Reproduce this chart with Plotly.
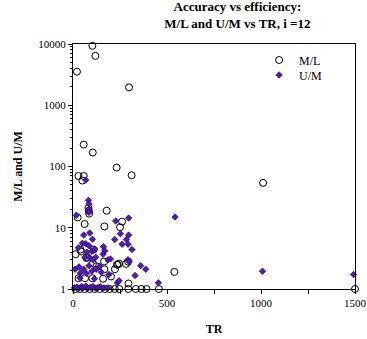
import plotly.graph_objects as go

# M/L series (open circles)
ml_tr = [103, 119, 21, 298, 57, 105, 232, 29, 57, 50, 312,
         82, 84, 86, 179, 25, 62, 167, 261, 250,
         14, 39, 110, 71, 106, 124, 165, 234, 245, 293, 282, 223, 160, 29, 64, 103, 295, 539,
         43, 75, 238, 167, 202, 1011, 1500,
         13, 36, 62, 89, 116, 142, 169, 195, 222, 246, 294, 334, 364, 391, 457]
ml_val = [9340, 6400, 3530, 1960, 228, 169, 96, 70, 70, 59, 72,
          21, 19, 17, 19, 14.7, 11.5, 10.5, 12.6, 10.2,
          3.7, 4.4, 4.4, 3.2, 2.6, 2.35, 2.8, 2.5, 2.6, 2.8, 2.57, 2.1, 1.47, 1.5, 1.5, 1.5, 1.23, 1.9,
          4.1, 3.3, 2.5, 2.1, 1.6, 54, 1,
          1, 1, 1, 1, 1, 1, 1, 1, 1, 1, 1, 1, 1, 1, 1]

# U/M series (filled diamonds)
um_tr = [68, 82, 85, 85, 85, 18, 543, 296, 227,
         57, 89, 103, 252, 296, 222, 284, 261, 293, 314, 162, 169, 160,
         29, 50, 68, 85, 74, 100, 115, 64, 89, 106, 121, 186, 199, 293, 298,
         360, 387, 330, 11, 32, 39, 57, 71, 85, 100, 124, 142, 151, 191,
         36, 114, 236, 245, 454, 1008, 1492,
         9, 21, 32, 45, 53, 68, 80, 93, 106, 121, 133, 146, 163, 186]
um_val = [60, 28, 24.5, 20, 17.8, 16, 15, 14.4, 12.9,
          7.6, 8.2, 6.5, 8, 7.6, 6.4, 6.4, 5.4, 5.4, 4.4, 4.9, 4.2, 3.7,
          4.7, 5.6, 5.5, 5.1, 4.0, 4.1, 4.5, 3.3, 3.2, 3.0, 3.3, 3.0, 3.1, 3.0, 2.8,
          2.4, 2.1, 1.66, 2.1, 2.3, 1.83, 2.1, 1.79, 2.4, 1.95, 2.1, 2.35, 1.88, 1.72,
          1.52, 1.47, 1.26, 1.37, 1.26, 1.95, 1.72,
          1.05, 1.08, 1.03, 1.1, 1.05, 1.12, 1.04, 1.07, 1.1, 1.03, 1.06, 1.09, 1.04, 1.05]

x_ticks = [0, 500, 1000, 1500]
y_ticks = [1, 10, 100, 1000, 10000]
y_labels = ["1", "10", "100", "1000", "10000"]

FONT = "Liberation Serif"

fig = go.Figure()
fig.add_trace(go.Scatter(
    x=ml_tr, y=ml_val, mode="markers", name="M/L", legend="legend",
    marker=dict(symbol="circle-open", size=7, color="black", line=dict(width=1, color="black")),
    cliponaxis=False))
fig.add_trace(go.Scatter(
    x=um_tr, y=um_val, mode="markers", name="U/M", legend="legend2",
    marker=dict(symbol="diamond", size=5, color="#5218b8", line=dict(width=0.6, color="#1a0050")),
    cliponaxis=False))

leg_common = dict(xanchor="left", yanchor="top", bgcolor="rgba(0,0,0,0)", borderwidth=0,
                  font=dict(family=FONT, size=12, color="black"), itemwidth=30)

fig.update_layout(
    width=367, height=339,
    margin=dict(l=73, r=12, t=44, b=50, autoexpand=False),
    paper_bgcolor="white", plot_bgcolor="white",
    font=dict(family=FONT, size=11, color="black"),
    title=dict(text="<b>Accuracy vs efficiency:<br>M/L and U/M vs TR, i =12</b>",
               x=0.583, xanchor="center", y=0.968, yanchor="middle",
               xref="paper", yref="container",
               font=dict(family=FONT, size=13, color="black"), automargin=False),
    legend=dict(x=0.66, y=0.994, **leg_common),
    legend2=dict(x=0.66, y=0.933, **leg_common),
    showlegend=True,
)
fig.update_xaxes(
    range=[0, 1500], tickvals=x_ticks, ticktext=[str(v) for v in x_ticks],
    ticks="outside", ticklen=4, tickcolor="black", automargin=False,
    minor=dict(ticks="outside", ticklen=4, tickvals=[250, 750, 1250], tickcolor="black"),
    showgrid=False, zeroline=False, showline=True, linecolor="black", linewidth=1, mirror=True,
    title=dict(text="<b>TR</b>", font=dict(family=FONT, size=12), standoff=16),
    tickfont=dict(family=FONT, size=11))
fig.update_yaxes(
    type="log", range=[0, 4], tickvals=y_ticks, ticktext=y_labels,
    ticks="outside", ticklen=4, tickcolor="black", automargin=False,
    minor=dict(ticks="outside", ticklen=2, tickcolor="black",
               tickvals=[m * 10 ** e for e in range(4) for m in range(2, 10)]),
    showgrid=False, zeroline=False, showline=True, linecolor="black", linewidth=1, mirror=True,
    title=dict(text="<b>M/L and U/M</b>", font=dict(family=FONT, size=12), standoff=13),
    tickfont=dict(family=FONT, size=11))

fig.write_html("out.html", config={"displayModeBar": False},
               post_script="document.body.style.margin='0';")
